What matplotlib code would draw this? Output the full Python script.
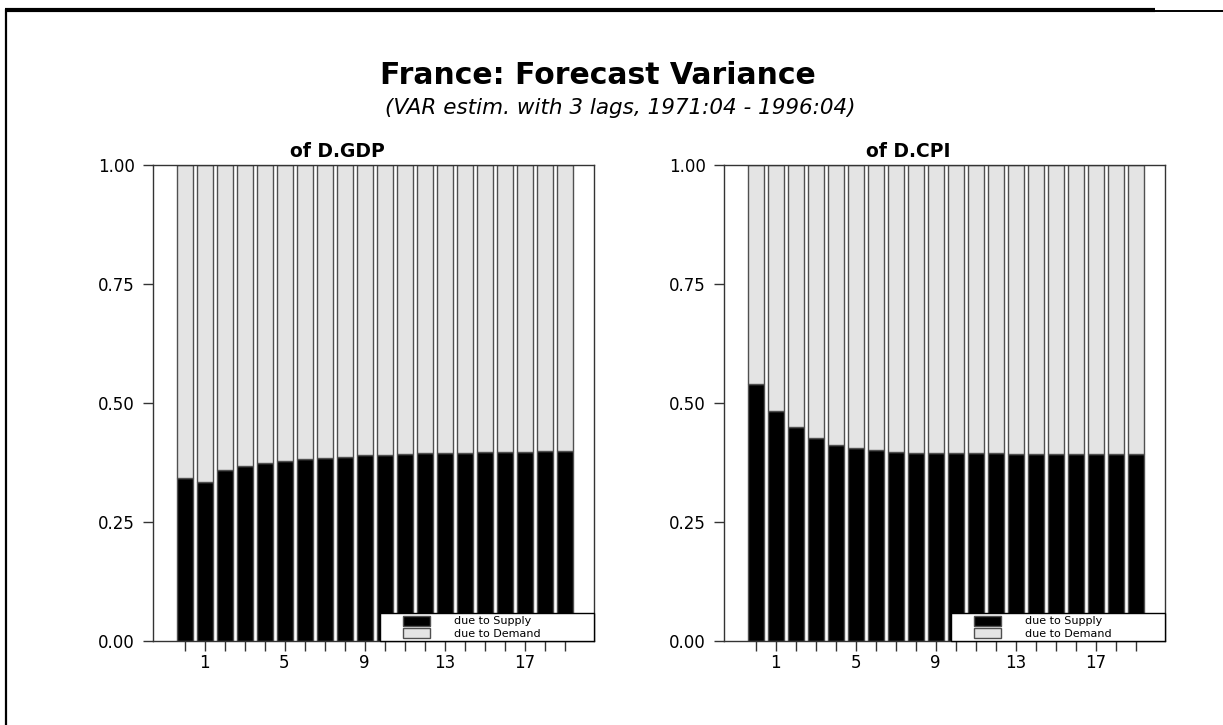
import numpy as np
import matplotlib
matplotlib.use("Agg")
import matplotlib.pyplot as plt
from matplotlib.lines import Line2D
from matplotlib.patches import Patch, Rectangle
from matplotlib.legend_handler import HandlerPatch

# Forecast error variance decomposition, share due to supply shocks
steps = np.arange(20)
gdp_supply = [0.342, 0.335, 0.359, 0.368, 0.375, 0.378, 0.382, 0.384, 0.387, 0.390,
              0.391, 0.393, 0.394, 0.396, 0.396, 0.397, 0.398, 0.398, 0.399, 0.400]
cpi_supply = [0.540, 0.483, 0.449, 0.426, 0.412, 0.405, 0.401, 0.398, 0.396, 0.395,
              0.394, 0.394, 0.394, 0.393, 0.393, 0.393, 0.393, 0.393, 0.393, 0.393]
panel_titles = ["of D.GDP", "of D.CPI"]
tick_steps = [1, 5, 9, 13, 17]
y_ticks = [0.0, 0.25, 0.5, 0.75, 1.0]

plt.rcParams['font.family'] = ['DejaVu Sans']

W, H = 1223, 725
fig = plt.figure(figsize=(W / 100, H / 100), dpi=100)

# page frame (thick rule on top, thin rule on left)
fig.add_artist(Line2D([5 / W, 1155 / W], [1 - 9.7 / H] * 2, color='black', lw=3.0,
                      transform=fig.transFigure, solid_capstyle='butt'))
fig.add_artist(Line2D([1155 / W, 1.0], [1 - 10.5 / H] * 2, color='black', lw=1.4,
                      transform=fig.transFigure, solid_capstyle='butt'))
fig.add_artist(Line2D([6 / W, 6 / W], [1 - 9 / H, 0], color='black', lw=1.6,
                      transform=fig.transFigure, solid_capstyle='butt'))

fig.text(598 / W, 1 - 75 / H, "France: Forecast Variance", ha='center', va='center',
         fontsize=21.5, fontweight='bold')
fig.text(620 / W, 1 - 108 / H, "(VAR estim. with 3 lags, 1971:04 - 1996:04)", ha='center',
         va='center', fontsize=15.5, fontstyle='italic')

supply_col = 'black'
demand_col = '#e4e4e4'
edge_col = '#505050'


def offset_rect(legend, orig_handle, xdescent, ydescent, width, height, fontsize):
    off = width * 21 / 48
    return Rectangle((-xdescent + off, -ydescent), width - off, height)


for k, (vals, title) in enumerate(zip([gdp_supply, cpi_supply], panel_titles)):
    left = (153 + k * 571) / W
    ax = fig.add_axes([left, 1 - 641 / H, 441 / W, 476 / H])
    vals = np.array(vals)
    ax.bar(steps, vals, width=0.8, color=supply_col, edgecolor=edge_col, linewidth=1.0)
    ax.bar(steps, 1 - vals, bottom=vals, width=0.8, color=demand_col,
           edgecolor=edge_col, linewidth=1.0)
    ax.set_xlim(-1.575, 20.475)
    ax.set_ylim(0, 1)
    ax.set_xticks(steps)
    ax.set_xticklabels([str(s) if s in tick_steps else '' for s in steps])
    ax.set_yticks(y_ticks)
    ax.set_yticklabels(['%.2f' % v for v in y_ticks])
    ax.tick_params(axis='both', direction='out', length=7, width=1, labelsize=12,
                   color='#333333')
    ax.tick_params(axis='y', pad=6)
    ax.tick_params(axis='x', pad=2)
    for sp in ax.spines.values():
        sp.set_color('#333333')
        sp.set_linewidth(1.0)
    t = ax.set_title(title, fontsize=13.5, fontweight='bold', pad=6)
    t.set_x(0.417)

    handles = [Patch(facecolor=supply_col, edgecolor=edge_col, lw=1.0),
               Patch(facecolor=demand_col, edgecolor=edge_col, lw=1.0)]
    x0 = 227 / 441
    leg = ax.legend(handles, ["due to Supply", "due to Demand"],
                    loc='lower left', bbox_to_anchor=(x0, 0, 1 - x0, 33 / 476),
                    mode='expand', borderaxespad=0, borderpad=0.2, fontsize=8,
                    handlelength=4.3, handleheight=1.0, handletextpad=2.2,
                    labelspacing=0.15, fancybox=False, framealpha=1,
                    handler_map={Patch: HandlerPatch(patch_func=offset_rect)})
    leg.get_frame().set_edgecolor('black')
    leg.get_frame().set_linewidth(1.0)

fig.savefig("out.png", dpi=100)
